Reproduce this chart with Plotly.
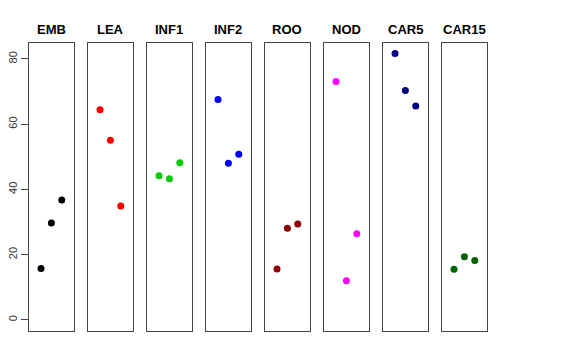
import plotly.graph_objects as go

panels = ["EMB", "LEA", "INF1", "INF2", "ROO", "NOD", "CAR5", "CAR15"]
colors = ["#000000", "#FF0000", "#00CD00", "#0000FF", "#8B0000", "#FF00FF", "#000080", "#006400"]
replicate = [1, 2, 3]
emb = [15.8, 29.7, 36.8]
lea = [64.4, 55.1, 34.9]
inf1 = [44.2, 43.3, 48.2]
inf2 = [67.6, 48.0, 50.8]
roo = [15.6, 28.1, 29.4]
nod = [73.1, 12.0, 26.4]
car5 = [81.7, 70.3, 65.6]
car15 = [15.5, 19.4, 18.2]
values = [emb, lea, inf1, inf2, roo, nod, car5, car15]
y_ticks = [0, 20, 40, 60, 80]

# page body has an 8px default margin, so the figure is 16px smaller
W, H = 560, 344
ml, mt = 21, 35
pw, ph = 459, 288
mr = W - ml - pw
mb = H - mt - ph
panel_w = 44.8
step = 59.0

fig = go.Figure()
layout = dict(
    width=W, height=H,
    margin=dict(l=ml, r=mr, t=mt, b=mb, autoexpand=False),
    paper_bgcolor="white", plot_bgcolor="white",
    showlegend=False,
    font=dict(family="Liberation Sans, Arial, sans-serif", color="#000000"),
)
annotations = []
for i, (name, col, vals) in enumerate(zip(panels, colors, values)):
    sfx = "" if i == 0 else str(i + 1)
    x0 = (i * step) / pw
    x1 = (i * step + panel_w) / pw
    fig.add_trace(go.Scatter(
        x=replicate, y=vals, mode="markers",
        marker=dict(color=col, size=7, line=dict(width=0)),
        xaxis="x" + sfx, yaxis="y" + sfx, hoverinfo="skip",
    ))
    layout["xaxis" + sfx] = dict(
        domain=[x0, x1], range=[-0.16, 4.16], anchor="y" + sfx,
        showgrid=False, zeroline=False, showticklabels=False, ticks="",
        showline=True, mirror=True, linecolor="#444444", linewidth=1,
        fixedrange=True, automargin=False,
    )
    ydict = dict(
        domain=[0, 1], range=[-3.4, 84.9], anchor="x" + sfx,
        showgrid=False, zeroline=False,
        showline=True, mirror=True, linecolor="#444444", linewidth=1,
        fixedrange=True, automargin=False,
    )
    if i == 0:
        ydict.update(tickvals=y_ticks, ticktext=[str(t) for t in y_ticks],
                     ticks="outside", ticklen=7, tickcolor="#444444",
                     tickangle=-90, tickfont=dict(size=11, color="#333333"),
                     showticklabels=True)
    else:
        ydict.update(showticklabels=False, ticks="")
    layout["yaxis" + sfx] = ydict
    annotations.append(dict(
        text="<b>" + name + "</b>", x=(x0 + x1) / 2, y=1.0, xref="paper", yref="paper",
        yshift=14, showarrow=False, xanchor="center", yanchor="middle",
        font=dict(size=13, color="#000000"),
    ))
layout["annotations"] = annotations
fig.update_layout(**layout)
fig.write_html("out.html")
